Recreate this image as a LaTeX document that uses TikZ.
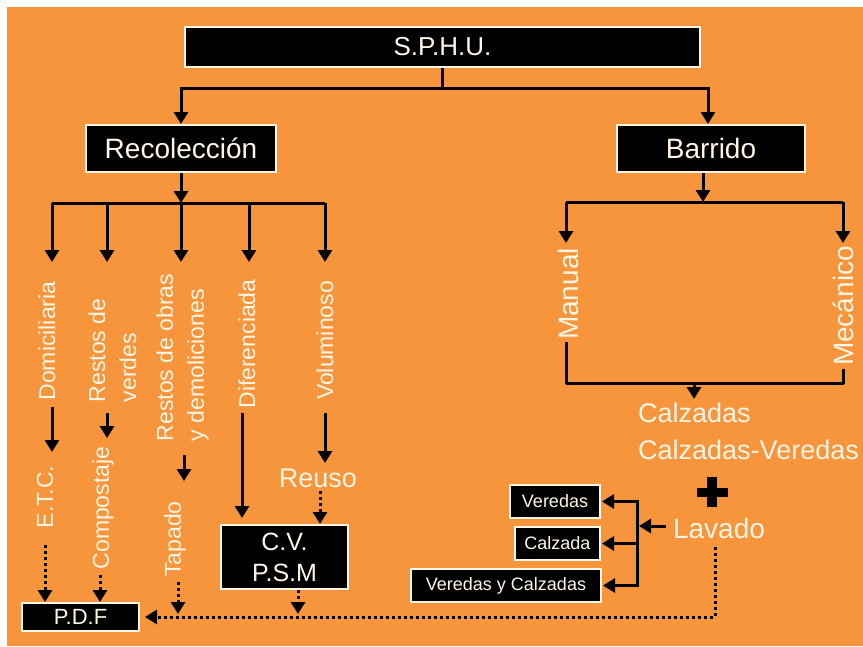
\documentclass[tikz,border=0pt]{standalone}
\usepackage{fontspec}
\setmainfont{Liberation Sans}
\usetikzlibrary{arrows.meta}
\definecolor{bgor}{RGB}{247,149,61}
\definecolor{cream}{RGB}{255,246,230}
\tikzset{
  boxn/.style={draw=cream, line width=2pt, fill=black, text=cream, inner sep=0pt, align=center},
  lab/.style={text=cream, inner sep=0pt, align=left},
  vlab/.style={lab, rotate=90},
  conn/.style={line width=3pt, draw=black},
  arr/.style={conn, -{Triangle[width=14pt,length=12pt]}},
  dotc/.style={line width=3pt, draw=black, dash pattern=on 3pt off 3pt},
  darr/.style={dotc, -{Triangle[width=14pt,length=12pt]}},
  fA/.style={font=\fontsize{23}{31}\selectfont},
  fB/.style={font=\fontsize{27}{30}\selectfont},
  fC/.style={font=\fontsize{28}{30}\selectfont},
}
\begin{document}
\begin{tikzpicture}[x=1pt,y=-1pt]
\useasboundingbox (0,0) rectangle (863,646);
\fill[white] (0,0) rectangle (863,646);
\fill[bgor] (7,7) rectangle (863,646);

% top level
\node[boxn, minimum width=515pt, minimum height=40pt, font=\fontsize{26}{28}\selectfont] (sphu) at (442.5,47) {S.P.H.U.};
\node[boxn, minimum width=190pt, minimum height=47pt, fC] (rec) at (181,148.5) {Recolección};
\node[boxn, minimum width=188pt, minimum height=47pt, fC] (bar) at (711,148.5) {Barrido};

\coordinate (j0) at (442.5,88);
\draw[conn] (sphu.south) -- (j0);
\draw[arr] (j0) -| (rec.north);
\draw[arr] ([xshift=-0.1pt]j0) -| ([xshift=-3pt]bar.north);

% Recoleccion branch
\coordinate (j1) at (181,203);
\draw[arr] (rec.south) -- (j1);
\coordinate (b1) at (52,203);
\coordinate (b2) at (107,203);
\coordinate (b4) at (249,203);
\coordinate (b5) at (325,203);
\draw[conn] (b1) -- (b5);
\foreach \c in {b1,b2,j1,b4,b5}{
  \draw[arr] (\c) -- ++(0,59);
}

\node[vlab, fA] (dom) at (47,341) {Domiciliaria};
\node[vlab, fA] (rv) at (112.5,350.5) {Restos de\\verdes};
\node[vlab, fA] (ro) at (182.5,357.5) {Restos de obras\\y demoliciones};
\node[vlab, fA] (dif) at (247,344) {Diferenciada};
\node[vlab, fA] (vol) at (325,340.5) {Voluminoso};

\node[vlab, fA] (etc) at (45,497) {E.T.C.};
\node[vlab, fA] (comp) at (103,508) {Compostaje};
\node[vlab, fA] (tap) at (175,539) {Tapado};
\node[lab, fB] (reuso) at (318,478) {Reuso};

\node[boxn, minimum width=127pt, minimum height=64pt, font=\fontsize{25}{31}\selectfont] (cv) at (284.5,557) {C.V.\\P.S.M};
\node[boxn, minimum width=117pt, minimum height=28pt, font=\fontsize{22}{24}\selectfont] (pdf) at (80.5,617) {P.D.F};

% solid arrows below labels
\draw[arr] (52,407) -- (52,452);
\draw[arr] (107,413) -- (107,438);
\draw[arr] (184,455) -- (184,481);
\draw[arr] (242,413) -- (242,518);
\draw[arr] (325,413) -- (325,463);

% dotted arrows
\draw[darr] (45,545) -- (45,602);
\draw[darr] (100,575) -- (100,602);
\draw[darr] (178,582) -- (178,614);
\draw[darr] (320,491) -- (320,524);
\draw[darr] (298,590) -- (298,614);

% Barrido branch
\coordinate (j2) at (703,202);
\draw[arr] ([xshift=-8pt]bar.south) -- (j2);
\coordinate (m1) at (566,202);
\coordinate (m2) at (843,202);
\draw[conn] (m1) -- (m2);
\draw[arr] (m1) -- ++(0,41);
\draw[arr] (m2) -- ++(0,41);

\node[vlab, fC] (man) at (568,294) {Manual};
\node[vlab, fC] (mec) at (843,306) {Mecánico};

\draw[conn, line join=round] (566,342) -- (566,383) -- (843,383) -- (843,369);
\draw[arr] (694,383) -- (694,399);

\node[lab, fB, anchor=west] (calz) at (638,413) {Calzadas};
\node[lab, fB, anchor=west] (calzv) at (638,450) {Calzadas-Veredas};

% plus sign
\fill[black] (697,487.5) rectangle (728,496.5);
\fill[black] (707,477) rectangle (717,507);

\node[lab, fC] (lav) at (719,528) {Lavado};

\node[boxn, minimum width=90pt, minimum height=33pt, font=\fontsize{18}{20}\selectfont] (ver) at (555,501.5) {Veredas};
\node[boxn, minimum width=85pt, minimum height=33pt, font=\fontsize{18}{20}\selectfont] (cal) at (557.5,543.5) {Calzada};
\node[boxn, minimum width=190pt, minimum height=33pt, font=\fontsize{18}{20}\selectfont] (vyc) at (506,585.5) {Veredas y Calzadas};

\coordinate (brx) at (637,0);
\draw[conn] (brx |- ver.east) -- (brx |- vyc.east);
\draw[arr, shorten >=1pt] ([xshift=1.5pt]brx |- ver.east) -- (ver.east);
\draw[arr, shorten >=1pt] (brx |- cal.east) -- (cal.east);
\draw[arr, shorten >=1pt] ([xshift=1.5pt]brx |- vyc.east) -- (vyc.east);
\draw[arr] (666,526) -- (639,526);

% dotted return to P.D.F
\coordinate (lv) at (715,547);
\draw[darr, shorten >=5pt] (lv) |- (pdf.east);
\end{tikzpicture}
\end{document}
